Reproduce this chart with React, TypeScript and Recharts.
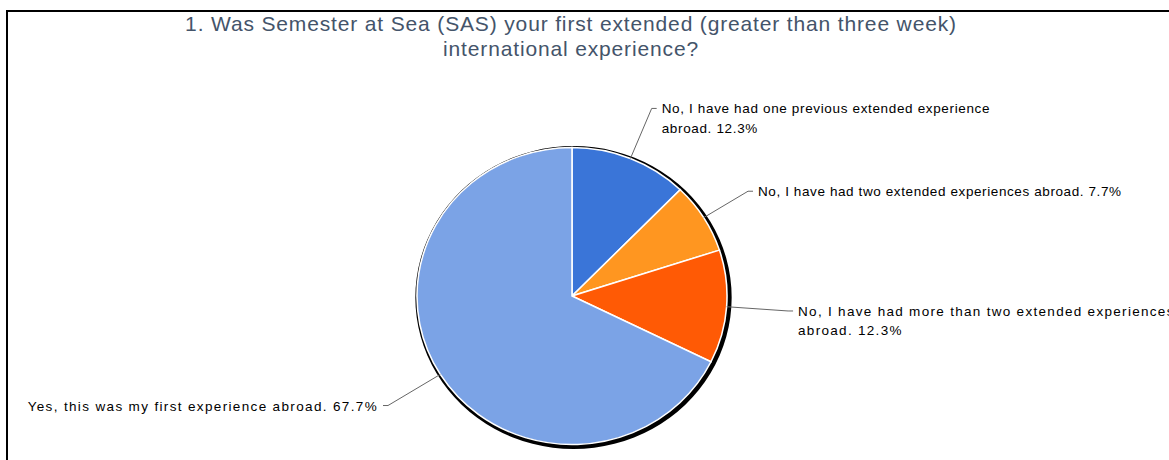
import { Pie, PieChart } from "recharts";

const categories = [
  "No, I have had one previous extended experience abroad.",
  "No, I have had two extended experiences abroad.",
  "No, I have had more than two extended experiences abroad.",
  "Yes, this was my first experience abroad.",
];

const shares = [12.3, 7.7, 12.3, 67.7];

// wrapped the way the original labels are broken
const labelLines = [
  ["No, I have had one previous extended experience", "abroad. 12.3%"],
  ["No, I have had two extended experiences abroad. 7.7%"],
  ["No, I have had more than two extended experiences", "abroad. 12.3%"],
  ["Yes, this was my first experience abroad. 67.7%"],
];

const sliceColors = ["#3a75d8", "#ff9620", "#ff5a05", "#7ba3e6"];

const titleLines = [
  "1. Was Semester at Sea (SAS) your first extended (greater than three week)",
  "international experience?",
];

const FONT = '"Liberation Sans", Arial, sans-serif';
const CX = 572;
const CY = 296;
const R = 148.5;
const X_STRETCH = 1.044; // the pie is a little wider than tall
const RAD = Math.PI / 180;

// leader line length and text tracking per label (the original renders them unevenly)
const leaderLength = [54, 50, 59, 59];
const labelTracking = [0.65, 0.6, 1.3, 1.35];

const data = categories.map((name, i) => ({
  name,
  value: shares[i],
  fill: sliceColors[i],
}));

const shadowData = [{ name: "shadow", value: 1, fill: "#000" }];

function SliceLabel(props: any) {
  const { cx, cy, midAngle, outerRadius, index } = props;
  const cos = Math.cos(-midAngle * RAD);
  const sin = Math.sin(-midAngle * RAD);
  const ext = outerRadius + (leaderLength[index] ?? 54);
  const sx = cx + outerRadius * cos * X_STRETCH;
  const sy = cy + outerRadius * sin;
  const ex = cx + ext * cos * X_STRETCH;
  const ey = cy + ext * sin;
  const right = cos >= 0;
  const hx = ex + (right ? 5 : -5);
  const tx = hx + (right ? 5 : -5);
  const lines = labelLines[index] ?? [];
  return (
    <g>
      <polyline
        points={`${sx},${sy} ${ex},${ey} ${hx},${ey}`}
        stroke="#666"
        strokeWidth={1}
        fill="none"
      />
      <text
        x={tx}
        y={ey}
        textAnchor={right ? "start" : "end"}
        dominantBaseline="central"
        fontSize={13.5}
        fontFamily={FONT}
        letterSpacing={labelTracking[index] ?? 0.65}
        fill="#000"
      >
        {lines.map((line, i) => (
          <tspan key={i} x={tx} dy={i === 0 ? 0 : 19.5}>
            {line}
          </tspan>
        ))}
      </text>
    </g>
  );
}

export default function App() {
  return (
    <div
      style={{
        position: "fixed",
        left: 0,
        top: 0,
        width: 1169,
        height: 460,
        overflow: "hidden",
        background: "#fff",
      }}
    >
      <style>{`
        .sas-pie path.recharts-sector {
          transform-origin: ${CX}px ${CY}px;
          transform: scaleX(${X_STRETCH});
        }
        .sas-shadow path.recharts-sector {
          transform-origin: ${CX + 1.5}px ${CY + 1.5}px;
          transform: scaleX(${X_STRETCH});
        }
      `}</style>
      <div
        style={{
          position: "absolute",
          left: 6,
          top: 10,
          width: 1220,
          height: 520,
          border: "2px solid #000",
        }}
      />
      <div
        style={{
          position: "absolute",
          left: 0,
          top: 11,
          width: 1142,
          textAlign: "center",
          fontFamily: FONT,
          fontSize: 21,
          lineHeight: "25px",
          letterSpacing: 0.85,
          color: "#44546a",
        }}
      >
        {titleLines.map((t) => (
          <div key={t}>{t}</div>
        ))}
      </div>
      <div style={{ position: "absolute", left: 0, top: 0 }}>
        <PieChart
          width={1169}
          height={460}
          margin={{ top: 0, right: 0, bottom: 0, left: 0 }}
        >
          <Pie
            className="sas-shadow"
            data={shadowData}
            dataKey="value"
            cx={CX + 1.5}
            cy={CY + 1.5}
            outerRadius={R + 3}
            startAngle={90}
            endAngle={-270}
            stroke="none"
            label={false}
            labelLine={false}
            isAnimationActive={false}
          />
          <Pie
            className="sas-pie"
            data={data}
            dataKey="value"
            nameKey="name"
            cx={CX}
            cy={CY}
            outerRadius={R}
            startAngle={90}
            endAngle={-270}
            stroke="#fff"
            strokeWidth={1.5}
            label={(p: any) => <SliceLabel {...p} />}
            labelLine={false}
            isAnimationActive={false}
          />
        </PieChart>
      </div>
    </div>
  );
}
